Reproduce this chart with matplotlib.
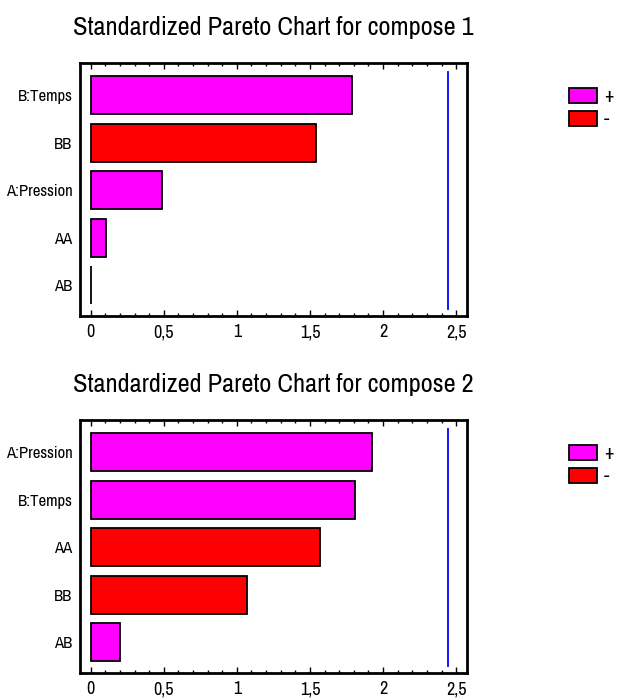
import matplotlib
matplotlib.use("Agg")
import matplotlib.pyplot as plt
from matplotlib.patches import Patch
from matplotlib.ticker import MultipleLocator, FuncFormatter

plt.rcParams['font.family'] = ['Archivo Narrow', 'Liberation Sans', 'DejaVu Sans']

# ---- data ----
titles = ["Standardized Pareto Chart for compose 1",
          "Standardized Pareto Chart for compose 2"]
effects1 = ["B:Temps", "BB", "A:Pression", "AA", "AB"]
values1 = [1.785, 1.54, 0.49, 0.105, 0.003]
signs1 = ["+", "-", "+", "+", "+"]
effects2 = ["A:Pression", "B:Temps", "AA", "BB", "AB"]
values2 = [1.926, 1.808, 1.566, 1.067, 0.198]
signs2 = ["+", "+", "-", "-", "+"]
critical_value = 2.447
xticks = [0, 0.5, 1, 1.5, 2, 2.5]

colors = {"+": "#ff00ff", "-": "#ff0000"}

W, H = 617, 698
fig = plt.figure(figsize=(W / 100, H / 100), dpi=100)

boxes = [(80, 63, 467, 316), (80, 420, 467, 673)]
datasets = [(effects1, values1, signs1), (effects2, values2, signs2)]

for (x0, y0, x1, y1), title, (eff, vals, sg) in zip(boxes, titles, datasets):
    ax = fig.add_axes([x0 / W, 1 - y1 / H, (x1 - x0) / W, (y1 - y0) / H])
    pos = list(range(len(eff)))
    ax.barh(pos, vals, height=0.8, color=[colors[s] for s in sg],
            edgecolor="black", linewidth=1.3, zorder=2)
    ax.plot([critical_value, critical_value], [-0.5, len(eff) - 0.5],
            color="#0000ff", linewidth=1.3, zorder=3)
    ax.set_xlim(-0.073, 2.574)
    ax.set_ylim(len(eff) - 0.35, -0.68)
    ax.set_yticks(pos)
    ax.set_yticklabels(eff)
    ax.set_xticks(xticks)
    ax.xaxis.set_major_formatter(FuncFormatter(lambda v, p: ("%g" % v).replace(".", ",")))
    ax.xaxis.set_minor_locator(MultipleLocator(0.1))
    ax.tick_params(axis="y", length=0, pad=5.5, labelsize=12)
    ax.tick_params(axis="x", which="major", direction="in", length=4, width=1,
                   top=True, bottom=True, pad=6, labelsize=13)
    ax.tick_params(axis="x", which="minor", direction="in", length=2.5, width=1,
                   top=True, bottom=True)
    for sp in ax.spines.values():
        sp.set_linewidth(2)
    ax.set_title(title, fontsize=19, pad=20.5)
    handles = [Patch(facecolor=colors["+"], edgecolor="black", linewidth=1.3, label="+"),
               Patch(facecolor=colors["-"], edgecolor="black", linewidth=1.3, label="-")]
    ax.legend(handles=handles, loc="upper left", bbox_to_anchor=(1.264, 0.905),
              frameon=False, borderaxespad=0, borderpad=0, handlelength=1.45,
              handleheight=0.8, handletextpad=0.35, labelspacing=0.2, fontsize=14)

fig.savefig("out.png", dpi=100)
